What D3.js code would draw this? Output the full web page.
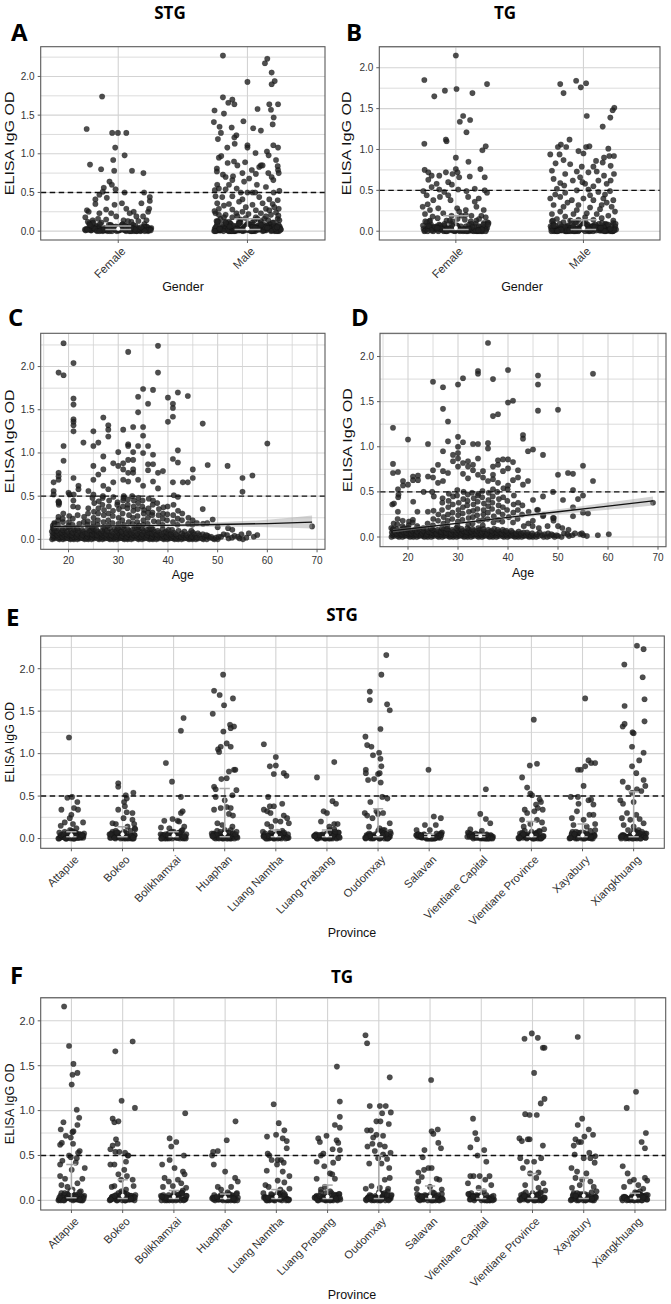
<!DOCTYPE html>
<html><head><meta charset="utf-8">
<script src="https://cdn.jsdelivr.net/npm/d3@7"></script>
<style>body{margin:0;background:#fff}svg{display:block}text{font-family:"Liberation Sans",Arial,sans-serif}</style>
</head><body><svg id="c" width="671" height="1304"></svg>
<script>
// ---------- categories & ticks ----------
const genders = ["Female","Male"];
const provinces = ["Attapue","Bokeo","Bolikhamxai","Huaphan","Luang Namtha","Luang Prabang","Oudomxay","Salavan","Vientiane Capital","Vientiane Province","Xayabury","Xiangkhuang"];
const yTicks = [0,0.5,1,1.5,2];
const yMinor = [0.25,0.75,1.25,1.75,2.25];
const ageTicks = [20,30,40,50,60,70];
const ageMinor = [15,25,35,45,55,65];
const cutoff = 0.5;

// ---------- Panel A (STG by gender): [OD, jitter] ----------
const stgFemale = [[1.32,-0.94],[1.74,-0.48],[0.86,-0.84],[0.80,-0.51],[1.27,-0.18],[1.27,-0.01],[1.27,0.24],[1.08,-0.09],[0.98,0.19],[0.92,-0.15],[0.78,-0.12],[0.78,0.41],[0.75,0.75],[0.64,-0.26],[0.60,-0.19],[0.56,-0.43],[0.54,-0.08],[0.50,0.19],[0.50,0.77],[0.51,-0.46],[0.44,0.94],[0.39,0.94],[0.43,-0.34],[0.47,-0.56],[0.41,-0.68],[0.27,-0.93],[0.25,-0.88],[0.35,-0.68],[0.28,-0.36],[0.34,-0.11],[0.36,0.11],[0.29,0.24],[0.25,0.46],[0.36,0.69],[0.25,0.89],[0.29,0.92],[0.18,-0.98],[0.23,-0.56],[0.23,-0.21],[0.19,-0.06],[0.23,0.34],[0.19,0.54],[0.19,0.74],[0.15,-0.36],[0.14,0.16],[0.12,0.39],[0.14,-0.76],[0.14,0.84],[0.16,-0.6],[0.13,0.6]];
const stgFemaleLow = [0,.01,.02,.03,.01,.05,.02,0,.04,.07,.01,.03,.02,.06,0,.09,.01,.04,.02,.08,.03,.01,.05,0,.02,.1,.03,.01,.06,.02,.04,0,.07,.01,.03,.11,.02,.05,.01,.08,0,.03,.02,.06,.01,.04,.12,0,.02,.05,.01,.03,.07,0,.04,.02,.09,.01,.06,.03,0,.02,.05,.08,.01,.04,0,.03,.13,.02,.06,.01,.1,0,.04,.02,.07,.03,.01,.05,.02,0,.04,.01,.06,.03,0,.08,.02,.05,.01,.03,0,.07,.04,.02,.01,.09,0,.03,.05,.02,.06,.01,0,.04,.11,.02,.03,.01,.07,0,.05,.02,.08,.04];
const stgMale = [[2.27,-0.73],[2.23,0.59],[2.17,0.52],[2.05,0.72],[1.94,0.81],[1.93,0.0],[1.90,0.72],[1.73,-0.73],[1.70,-0.45],[1.66,-0.57],[1.64,-0.39],[1.64,0.65],[1.64,0.91],[1.56,-0.98],[1.52,-0.70],[1.58,0.30],[1.57,0.70],[1.47,0.78],[1.38,0.75],[1.41,-1.0],[1.35,-0.83],[1.34,-0.47],[1.42,-0.12],[1.33,0.17],[1.30,0.40],[1.27,-0.79],[1.24,-0.33],[1.19,-0.88],[1.21,-0.39],[1.11,0.0],[1.08,0.0],[1.11,0.77],[1.08,0.91],[1.08,-0.60],[1.13,-0.38],[0.95,-0.85],[0.97,-0.78],[0.90,-0.40],[1.01,0.24],[1.03,0.58],[0.98,0.63],[0.88,-0.59],[0.89,-0.07],[0.85,-0.30],[0.83,0.35],[0.85,0.40],[0.85,0.45],[0.92,0.85],[0.84,0.90],[0.79,0.91],[0.75,0.93],[0.81,-0.91],[0.77,-0.91],[0.73,-0.73],[0.70,-0.65],[0.71,-0.43],[0.79,0.13],[0.75,-0.15],[0.74,0.25],[0.75,0.62],[0.70,0.72],[0.66,0.77],[0.66,-0.45],[0.64,-0.10],[0.68,0.05],[0.60,-0.55],[0.60,0.28],[0.57,0.55],[0.60,-0.90],[0.53,-0.97],[0.54,-0.65],[0.55,-0.85],[0.55,-0.32],[0.50,-0.20],[0.50,0.0],[0.50,0.15],[0.50,0.23],[0.52,0.95],[0.50,0.78],[0.45,-0.95],[0.44,-0.75],[0.45,-0.45],[0.41,-0.15],[0.44,0.35],[0.41,0.65],[0.40,0.90],[0.36,-0.90],[0.35,-0.55],[0.38,-0.25],[0.34,0.15],[0.36,0.45],[0.35,0.75],[0.29,-0.85],[0.28,-0.45],[0.31,-0.05],[0.27,0.25],[0.29,0.55],[0.29,0.93],[0.23,-0.95],[0.21,-0.65],[0.23,-0.33],[0.22,0.03],[0.23,0.40],[0.21,0.70],[0.16,-0.80],[0.15,-0.20],[0.16,0.50],[0.16,0.90],[0.12,-0.55],[0.11,0.15],[0.11,0.75],[0.26,-0.98],[0.19,-0.30],[0.18,0.25],[0.24,0.85],[0.13,-0.92],[0.14,0.62],[0.33,-0.70],[0.31,0.80],[0.18,-0.45],[0.20,0.92],[0.17,-0.05],[0.13,0.40],[0.25,-0.15],[0.12,-0.25],[0.14,0.95],[0.19,0.55],[0.21,-0.85],[0.16,0.30],[0.27,0.65],[0.18,-0.70]];
const stgMaleLow = [0,.02,.01,.04,.03,.06,0,.01,.08,.02,.05,.03,0,.07,.01,.02,.1,.04,.01,.03,.06,0,.02,.09,.05,.01,.03,0,.07,.02,.04,.01,.11,.03,.06,0,.02,.08,.01,.04,.05,.02,0,.03,.07,.01,.09,.02,.04,0,.06,.03,.01,.1,.02,.05,0,.08,.03,.01,.04,.02,.07,0,.12,.03,.01,.05,.02,0,.06,.04,.09,.01,.03,0,.02,.07,.05,.01,.13,.04,0,.02,.08,.03,.06,.01,0,.04,.1,.02,.05,.01,.03,.07,0,.02,.09,.04,.01,.06,.03,0,.11,.02,.05,.08,.01,.04,.14,0,.03,.06,.02,.1,.01,0,.05,.03,.07,.02,0,.04,.09,.01,.06,.02,0,.03,.08,.05,.01,.04,0,.12,.02,.07,.03,.01,0,.05,.1,.02,.04,.06,0,.01,.03,.08,.02,.05,0,.11,.04,.01];
const stgGenderSummary = [[0.02,0.065,0.03],[0.02,0.16,0.035]]; // [lower, upper, median]

// ---------- Panel B (TG by gender) ----------
const tgFemale = [[2.15,0],[1.85,-0.95],[1.65,-0.65],[1.72,-0.33],[1.74,0.02],[1.69,0.50],[1.80,0.94],[1.41,0.22],[1.34,0.12],[1.36,0.43],[1.21,0.32],[1.12,-0.30],[1.10,-0.28],[1.07,-0.95],[1.04,0.90],[0.90,0],[0.85,0.38],[0.99,0.80],[0.75,-0.94],[0.72,-0.83],[0.68,-0.73],[0.68,-0.50],[0.72,-0.30],[0.70,-0.10],[0.76,0],[0.72,0.05],[0.66,0.10],[0.67,0.42],[0.76,0.74],[0.66,0.87],[0.63,-0.83],[0.58,-0.58],[0.60,-0.23],[0.57,-0.12],[0.54,-0.73],[0.49,-0.98],[0.51,-0.50],[0.48,-0.35],[0.51,0.07],[0.49,0.32],[0.52,0.57],[0.50,0.87],[0.47,0.94],[0.44,-0.88],[0.42,-0.48],[0.44,-0.23],[0.42,0.37],[0.40,0.69],[0.38,-0.68],[0.38,-0.16],[0.36,0.57],[0.30,-1.0],[0.26,-0.78],[0.28,-0.53],[0.28,0.04],[0.26,0.30],[0.30,0.62],[0.26,0.84],[0.21,-0.93],[0.22,-0.38],[0.19,-0.13],[0.19,0.17],[0.19,0.47],[0.19,0.77],[0.13,-0.78],[0.13,-0.28],[0.14,0.27],[0.13,0.62],[0.16,-0.55],[0.15,0.05],[0.17,0.90],[0.12,0.45],[0.24,0.10],[0.33,-0.85],[0.18,-0.70],[0.15,0.70],[0.12,-0.10],[0.20,0.30]];
const tgFemaleLow = [.01,0,.03,.02,.05,.01,.07,.04,0,.02,.09,.03,.01,.06,.02,0,.04,.08,.01,.03,.11,.02,.05,0,.01,.07,.03,.02,.1,.04,0,.06,.01,.03,.02,.08,.05,0,.12,.01,.04,.02,.06,.03,0,.09,.02,.01,.05,0,.07,.03,.01,.04,.1,0,.02,.06,.01,.03,.08,0,.05,.02,.04,.01,.13,0,.03,.07,.02,.01,.05,.09,0,.04,.02,.06,.01,.03,.11,0,.02,.08,.01,.05,0,.03,.07,.02,.04,0,.01,.06,.03,.09,0,.02,.05,.01,.04,.12,0,.03,.02,.07,.01,.05,0,.08,.02,.04,.01,.06,0,.03];
const tgMale = [[1.80,-0.70],[1.84,-0.22],[1.81,0.08],[1.69,-0.60],[1.76,-0.08],[1.51,0.93],[1.48,0.88],[1.39,0.81],[1.41,0.10],[1.28,0.58],[1.06,-0.68],[1.12,-0.42],[1.03,-0.52],[1.03,-0.77],[1.03,0.08],[1.04,0.18],[1.01,0.75],[0.94,-1.0],[0.94,-0.72],[0.98,-0.15],[0.95,0],[0.90,0.62],[0.92,0.78],[0.92,0.92],[0.83,-0.84],[0.87,-0.60],[0.82,-0.40],[0.79,-0.05],[0.79,0.30],[0.84,0.58],[0.80,0.82],[0.74,-0.95],[0.70,-0.55],[0.73,-0.20],[0.72,0.15],[0.73,0.40],[0.70,0.92],[0.64,-0.90],[0.59,-0.70],[0.62,-0.32],[0.60,-0.03],[0.58,0.05],[0.62,0.45],[0.58,0.70],[0.52,-0.80],[0.47,-0.55],[0.50,-0.20],[0.51,0.15],[0.48,0.45],[0.49,0.80],[0.40,-1.0],[0.42,-0.70],[0.38,-0.35],[0.40,0],[0.38,0.30],[0.40,0.60],[0.38,0.90],[0.32,-0.90],[0.30,-0.60],[0.32,-0.15],[0.29,0.20],[0.32,0.55],[0.30,0.85],[0.21,-0.95],[0.24,-0.70],[0.21,-0.30],[0.22,0.10],[0.21,0.40],[0.19,0.75],[0.15,-0.80],[0.13,-0.40],[0.14,0.30],[0.13,0.90],[0.66,-0.10],[0.55,0.30],[0.45,0.65],[0.35,-0.48],[0.27,0.50],[0.45,-0.85],[0.56,-0.58],[0.68,0.62],[0.86,0.38],[0.17,0.05],[0.26,-0.20],[0.35,0.70],[0.44,0.20],[0.62,0.82],[0.18,-0.55],[0.16,0.55],[0.12,-0.95],[0.24,0.95],[0.14,-0.15]];
const tgMaleLow = [.02,0,.01,.04,.03,.06,.01,0,.08,.02,.05,.03,.01,.07,0,.02,.1,.04,.01,.03,.06,0,.02,.09,.05,.01,.03,0,.07,.02,.04,.01,.11,.03,.06,0,.02,.08,.01,.04,.05,.02,0,.03,.07,.01,.09,.02,.04,0,.06,.03,.01,.1,.02,.05,0,.08,.03,.01,.04,.12,0,.02,.06,.01,.03,.05,0,.07,.02,.04,.01,.09,0,.03,.06,.02,.01,.05,0,.08,.04,.02,.11,.01,.03,0,.06,.02,.05,.01,.07,0,.04,.03,.1,.02,.01,.05,0,.13,.03,.06,.02,.08,.01,.04,0,.09,.02,.05,0,.03,.07,.01,.04,0,.06,.02,.1,.03,0,.05,.01,.08,.02,0,.04,.06,.01,.03,.11,0,.02,.07,.05,.01,.03,0,.09,.04,.02];
const tgGenderSummary = [[0.02,0.19,0.04],[0.02,0.14,0.04]];

// ---------- Panel C (STG by age): [age, OD] ----------
const stgAge = [[19,2.27],[18,1.93],[19,1.90],[21,2.04],[32,2.17],[38,2.24],[38,1.93],[21,1.63],[21,1.56],[21,1.39],[21,1.36],[21,1.32],[21,1.25],[19,1.08],[19,0.91],[18,0.77],[18,0.73],[18,0.69],[17,0.66],[17,0.56],[17,0.52],[18,0.44],[18,0.43],[20,0.54],[21,0.71],[22,0.62],[22,0.58],[23,1.12],[24,0.56],[25,1.25],[25,1.08],[25,0.85],[25,0.69],[25,0.52],[26,1.12],[26,0.75],[27,1.41],[27,0.96],[27,0.81],[27,0.62],[28,1.32],[28,1.27],[28,1.19],[28,0.58],[29,0.88],[29,0.66],[30,1.01],[30,0.85],[31,1.27],[31,0.88],[31,0.81],[31,0.69],[32,1.10],[32,1.08],[32,0.92],[32,0.77],[32,0.67],[33,1.30],[33,1.01],[33,0.92],[33,0.81],[33,0.77],[34,1.65],[34,1.47],[34,1.08],[34,0.69],[35,1.74],[35,1.30],[35,1.20],[35,1.00],[35,0.62],[36,1.57],[36,1.08],[36,0.87],[36,0.80],[37,1.73],[37,0.98],[37,0.87],[37,0.67],[38,0.77],[38,0.59],[39,0.79],[40,1.64],[40,1.36],[41,1.57],[41,1.52],[41,1.42],[41,0.93],[41,0.66],[42,1.70],[42,1.03],[42,0.89],[42,0.49],[44,1.66],[43,0.66],[44,0.66],[45,0.81],[45,0.71],[47,1.34],[47,0.35],[48,0.86],[49,0.23],[52,0.85],[55,0.71],[55,0.55],[57,0.74],[60,1.11],[69,0.15]];
const stgAgeMid = [[17,[0.16,0.18,0.19,0.13]],[18,[0.42,0.40,0.26,0.22,0.17]],[19,[0.30,0.20,0.24]],[20,[0.52,0.27,0.20,0.16]],[21,[0.52,0.45,0.38,0.24,0.17]],[22,[0.37,0.28,0.18]],[23,[0.26,0.20]],[24,[0.36,0.30,0.21,0.17]],[25,[0.48,0.42,0.32,0.25,0.19]],[26,[0.44,0.36,0.30,0.22,0.17]],[27,[0.50,0.48,0.40,0.34,0.28,0.20]],[28,[0.45,0.38,0.30,0.22,0.16]],[29,[0.49,0.33,0.27,0.19]],[30,[0.43,0.40,0.35,0.25,0.18]],[31,[0.50,0.48,0.45,0.38,0.30,0.22,0.17]],[32,[0.46,0.40,0.36,0.28,0.20]],[33,[0.50,0.45,0.38,0.33,0.25,0.18]],[34,[0.48,0.42,0.35,0.27,0.20,0.16]],[35,[0.45,0.38,0.34,0.30,0.22,0.17]],[36,[0.47,0.36,0.31,0.25,0.18]],[37,[0.45,0.40,0.31,0.28,0.21]],[38,[0.42,0.35,0.28,0.20]],[39,[0.37,0.30,0.24,0.17]],[40,[0.38,0.29,0.22]],[41,[0.51,0.40,0.28,0.20]],[42,[0.33,0.24,0.17]],[43,[0.30,0.22]],[44,[0.25,0.18]],[45,[0.22,0.17]],[46,[0.19]],[47,[0.18]],[48,[0.19]],[50,[0.14]],[52,[0.13]],[53,[0.11]]];
const stgAgeLow = [[17,[0,.01,.02,.03,.04,.05,.07,.08,.09,.11,.13]],[18,[0,.01,.02,.03,.05,.06,.08,.1,.12]],[19,[0,.01,.02,.03,.04,.06,.08,.09,.11,.13]],[20,[0,.01,.02,.04,.05,.06,.07,.09,.12,.14]],[21,[0,.01,.02,.03,.05,.07,.08,.1,.12]],[22,[0,.01,.02,.03,.04,.06,.08,.1,.13]],[23,[0,.01,.02,.04,.05,.07,.09,.11]],[24,[0,.01,.02,.03,.04,.06,.07,.1,.13]],[25,[0,.01,.02,.03,.05,.06,.08,.1,.11,.12,.14]],[26,[0,.01,.02,.04,.05,.07,.09,.11]],[27,[0,.01,.02,.03,.04,.05,.07,.08,.1,.12,.14]],[28,[0,.01,.02,.03,.05,.06,.08,.1,.13]],[29,[0,.01,.02,.04,.05,.07,.09,.12]],[30,[0,.01,.02,.03,.04,.05,.06,.08,.1,.11,.13]],[31,[0,.01,.02,.03,.04,.06,.07,.09,.12,.14]],[32,[0,.01,.02,.03,.05,.06,.08,.1,.12]],[33,[0,.01,.02,.04,.05,.07,.08,.11,.13]],[34,[0,.01,.02,.03,.05,.06,.07,.09,.12,.14]],[35,[0,.01,.02,.03,.04,.06,.08,.1,.13]],[36,[0,.01,.02,.04,.05,.07,.08,.11,.12]],[37,[0,.01,.02,.03,.04,.06,.07,.09,.12,.13]],[38,[0,.01,.02,.03,.05,.06,.08,.1]],[39,[0,.01,.02,.04,.06,.08,.12]],[40,[0,.01,.02,.03,.05,.07,.09,.11]],[41,[0,.01,.02,.03,.04,.06,.08,.11]],[42,[0,.01,.02,.04,.06,.1]],[43,[0,.01,.02,.03,.05,.07,.09]],[44,[0,.01,.02,.03,.05,.07]],[45,[0,.01,.02,.03,.06,.08,.1]],[46,[0,.01,.02,.05,.07]],[47,[0,.01,.03,.06]],[48,[0,.02,.04,.05]],[49,[0,.01,.03]],[50,[0,.02,.03]],[51,[.03,.06]],[52,[.01,.05]],[53,[.02,.04]],[54,[.01,.03]],[55,[0,.06]],[56,[.02,.07]],[57,[.03]],[58,[.05]]];
const stgFit = [[17,0.15,0.13,0.17],[25,0.153,0.14,0.166],[32,0.158,0.145,0.171],[40,0.162,0.147,0.177],[50,0.172,0.145,0.199],[60,0.183,0.14,0.226],[69,0.20,0.125,0.275]]; // [age, fit, lower, upper]

// ---------- Panel D (TG by age) ----------
const tgAge = [[36,2.15],[34,1.84],[34,1.81],[40,1.85],[46,1.79],[46,1.69],[57,1.81],[25,1.72],[27,1.66],[30,1.69],[31,1.76],[37,1.75],[40,1.49],[41,1.51],[46,1.40],[50,1.41],[27,1.42],[37,1.34],[38,1.36],[28,1.28],[17,1.21],[20,1.08],[24,1.03],[28,1.06],[30,1.11],[31,1.05],[33,1.03],[34,1.03],[43,1.13],[43,1.09],[44,0.95],[45,0.97],[47,0.91],[30,1.00],[27,0.95],[34,0.87],[36,1.04],[36,0.98],[38,0.85],[40,0.86],[17,0.81],[17,0.71],[18,0.72],[19,0.62],[19,0.57],[21,0.67],[21,0.63],[24,0.67],[25,0.74],[26,0.80],[27,0.73],[28,0.71],[29,0.91],[30,0.87],[31,0.82],[32,0.78],[33,0.74],[34,0.69],[35,0.73],[37,0.69],[38,0.80],[39,0.73],[40,0.76],[41,0.63],[42,0.74],[43,0.58],[50,0.69],[52,0.71],[53,0.70],[55,0.79],[57,0.62],[55,0.46],[54,0.42],[53,0.52],[51,0.41],[49,0.50],[47,0.45],[45,0.41],[53,0.33],[69,0.38],[46,0.30],[47,0.23],[49,0.21],[55,0.27],[56,0.26],[53,0.23],[29,0.84],[30,0.93],[30,0.78],[31,0.70],[32,0.84],[32,0.65],[33,0.80],[35,0.66],[36,0.62],[37,0.78],[37,0.64],[38,0.60],[39,0.86],[40,0.57],[41,0.83],[42,0.66],[44,0.62],[27,0.62],[26,0.60],[22,0.68],[22,0.63],[25,0.66],[20,0.58],[18,0.53]];
const tgAgeMid = [[17,[0.36,0.37,0.15,0.09]],[18,[0.47,0.44,0.28,0.20,0.14]],[19,[0.18,0.12]],[20,[0.17,0.13,0.10]],[21,[0.39,0.19,0.16]],[22,[0.28,0.12]],[23,[0.50,0.10]],[24,[0.28,0.15]],[25,[0.50,0.45,0.29,0.20,0.13]],[26,[0.25,0.18]],[27,[0.43,0.38,0.30,0.22,0.15]],[28,[0.48,0.40,0.33,0.25,0.18,0.12]],[29,[0.45,0.36,0.27,0.20]],[30,[0.52,0.46,0.38,0.30,0.24,0.17,0.12]],[31,[0.50,0.42,0.33,0.26,0.19]],[32,[0.47,0.40,0.35,0.28,0.21,0.14]],[33,[0.49,0.43,0.36,0.29,0.22,0.15]],[34,[0.48,0.46,0.39,0.31,0.24,0.18]],[35,[0.51,0.44,0.37,0.30,0.25,0.19,0.13]],[36,[0.49,0.41,0.34,0.27,0.20]],[37,[0.53,0.45,0.38,0.31,0.23,0.16]],[38,[0.50,0.42,0.35,0.28,0.19]],[39,[0.54,0.44,0.33,0.25,0.17]],[40,[0.53,0.40,0.30,0.22]],[41,[0.46,0.36,0.27,0.16]],[42,[0.38,0.30,0.20]],[43,[0.35,0.25,0.12]],[44,[0.28,0.15]],[45,[0.18,0.12]],[46,[0.30,0.10]],[47,[0.24]],[48,[0.12]],[49,[0.21,0.18]],[50,[0.12]],[51,[0.10]],[52,[0.08]]];
const tgAgeLow = [[17,[0,.01,.02,.03,.04,.05,.06,.08,.1]],[18,[0,.01,.02,.03,.04,.05,.07,.09]],[19,[0,.01,.02,.03,.04,.06,.08,.1]],[20,[0,.01,.02,.03,.04,.05,.07,.09]],[21,[0,.01,.02,.03,.04,.05,.07,.08]],[22,[0,.01,.02,.03,.04,.06,.08,.1]],[23,[0,.01,.02,.03,.04,.05,.07]],[24,[0,.01,.02,.03,.05,.06,.09]],[25,[0,.01,.02,.03,.04,.05,.07,.08,.1]],[26,[0,.01,.02,.03,.04,.06,.08]],[27,[0,.01,.02,.03,.04,.05,.06,.08,.1]],[28,[0,.01,.02,.03,.04,.05,.07,.09]],[29,[0,.01,.02,.03,.04,.06,.08]],[30,[0,.01,.02,.03,.04,.05,.06,.08,.1]],[31,[0,.01,.02,.03,.04,.05,.07,.09]],[32,[0,.01,.02,.03,.04,.05,.06,.08,.1]],[33,[0,.01,.02,.03,.04,.06,.07,.09]],[34,[0,.01,.02,.03,.04,.05,.07,.08,.1]],[35,[0,.01,.02,.03,.04,.05,.06,.09]],[36,[0,.01,.02,.03,.04,.06,.08]],[37,[0,.01,.02,.03,.04,.05,.07,.09]],[38,[0,.01,.02,.03,.04,.05,.06,.08]],[39,[0,.01,.02,.03,.04,.06,.08]],[40,[0,.01,.02,.03,.04,.05,.07]],[41,[0,.01,.02,.03,.05,.07]],[42,[0,.01,.02,.03,.04,.06]],[43,[0,.01,.02,.04,.05]],[44,[0,.01,.02,.03,.05]],[45,[0,.01,.02,.04]],[46,[0,.01,.03,.05]],[47,[0,.02,.03]],[48,[0,.01,.04]],[49,[0,.02,.03]],[50,[.01,.02]],[51,[0,.04]],[52,[.01,.03]],[53,[.02,.04]],[54,[.03]],[55,[.02,.04]],[56,[.01]],[58,[.02]],[60,[.03]]];
const tgFit = [[17,0.07,0.05,0.09],[25,0.12,0.105,0.135],[32,0.165,0.152,0.178],[40,0.217,0.2,0.234],[50,0.28,0.252,0.308],[60,0.343,0.303,0.383],[69,0.40,0.35,0.45]];

// ---------- Panel E (STG by province): [OD, jitter] ----------
const stgProvHigh = [
 [[1.19,-0.18],[0.34,-0.75],[0.48,-0.3],[0.49,0.05],[0.43,0.45],[0.36,0.2],[0.34,0.5],[0.28,0],[0.24,-0.12],[0.19,-0.5],[0.19,0.88],[0.15,-0.8],[0.17,0.12],[0.12,0.38]],
 [[0.65,-0.32],[0.61,-0.32],[0.54,0.82],[0.51,0.25],[0.47,0.32],[0.43,0.12],[0.34,-0.32],[0.38,0.18],[0.31,0.32],[0.30,0.75],[0.24,0.08],[0.22,0.75],[0.17,-0.5],[0.17,0.88],[0.14,0.38],[0.18,-0.75],[0.12,0.92]],
 [[0.89,-0.58],[0.67,-0.12],[1.27,0.55],[1.42,0.75],[0.49,0.55],[0.30,0.55],[0.32,0.68],[0.21,-0.7],[0.23,-0.08],[0.21,0.3],[0.20,0.42],[0.14,0.8],[0.13,-0.95],[0.12,-0.32]],
 [[1.93,-0.12],[1.65,0.62],[1.74,-0.8],[1.69,-0.38],[1.57,-0.05],[1.47,-0.9],[1.34,0.4],[1.32,0.7],[1.30,0.45],[1.26,-0.1],[1.12,0.15],[1.08,0.45],[1.08,-0.3],[1.05,-0.5],[1.02,-0.42],[0.79,0.32],[0.81,0.7],[0.81,0.8],[0.71,0.15],[0.70,-0.25],[0.61,-0.8],[0.58,-0.68],[0.57,0.88],[0.51,0.58],[0.45,0],[0.49,-0.68],[0.34,-0.8],[0.36,-0.3],[0.37,0.15],[0.36,0.45],[0.29,0.32],[0.27,0.62],[0.18,-0.55],[0.16,-0.18],[0.14,0.58],[0.10,0.45]],
 [[1.11,-0.9],[0.85,-0.45],[0.86,0],[0.96,0],[0.76,-0.15],[0.77,0.6],[0.74,0.8],[0.49,-0.58],[0.41,0.48],[0.38,-0.45],[0.38,-0.15],[0.34,-0.9],[0.32,-0.65],[0.30,-0.4],[0.27,0.6],[0.24,0.85],[0.21,-0.02],[0.20,0.35],[0.17,-0.65],[0.18,0.98],[0.14,-0.35]],
 [[0.72,-0.75],[0.90,0.55],[0.44,0.42],[0.41,0.68],[0.32,-0.25],[0.30,0],[0.20,-0.45],[0.17,0.55],[0.14,0.18],[0.17,0.8],[0.11,0.55]],
 [[2.16,0.62],[1.93,0.25],[1.73,-0.62],[1.63,-0.62],[1.58,0.68],[1.51,0.88],[1.29,0.18],[1.20,-0.95],[1.10,-0.82],[1.08,-0.5],[0.98,-0.38],[1.01,0.08],[0.94,0.18],[0.85,0.25],[0.81,-0.92],[0.77,-0.92],[0.69,-0.75],[0.70,-0.3],[0.76,0],[0.77,0.12],[0.66,0.2],[0.49,0.32],[0.47,0.7],[0.43,-0.58],[0.30,-1.0],[0.27,-0.82],[0.32,-0.12],[0.29,0],[0.30,0.38],[0.24,-0.42],[0.18,0.88],[0.14,-0.68],[0.12,0.12],[0.10,0.5]],
 [[0.81,-0.05],[0.16,-0.32],[0.26,0.35],[0.24,0.88],[0.16,0.5],[0.10,-0.95],[0.10,0.05]],
 [[0.58,0.42],[0.29,0],[0.23,0.42],[0.18,0.75],[0.11,-0.75],[0.09,0.12]],
 [[1.40,0.18],[0.86,-0.12],[0.88,0.42],[0.72,-0.7],[0.60,-0.32],[0.53,-0.08],[0.51,0.05],[0.46,0.62],[0.43,0.72],[0.40,0.35],[0.36,0.48],[0.34,-0.5],[0.34,0.85],[0.30,-0.32],[0.32,0.22],[0.22,-0.7],[0.22,0.42],[0.19,0.8],[0.14,-0.58],[0.17,-0.08]],
 [[1.65,0.2],[0.81,-0.35],[0.81,-0.12],[0.85,0.2],[0.92,0.45],[0.89,0.65],[0.89,0.95],[0.62,0.08],[0.49,-0.88],[0.49,-0.35],[0.45,0.45],[0.46,0.65],[0.41,-0.3],[0.40,0.82],[0.32,-0.42],[0.28,0.52],[0.28,0.82],[0.24,-0.8],[0.22,0.08],[0.17,0.95],[0.16,-0.68],[0.14,0.32]],
 [[2.27,0.25],[2.23,0.75],[2.05,-0.7],[1.90,0.68],[1.64,0.82],[1.56,-0.68],[1.38,0.82],[1.32,-0.82],[1.35,-0.68],[1.25,-0.08],[1.24,0],[1.08,-0.12],[1.01,0.75],[0.92,0.42],[0.85,-0.12],[0.77,0.2],[0.69,0.75],[0.67,-0.82],[0.60,-0.42],[0.58,0.25],[0.62,0.88],[0.54,-0.12],[0.56,0.58],[0.45,-1.0],[0.41,-0.8],[0.43,0],[0.30,-0.5],[0.28,0.2],[0.24,-0.88],[0.22,-0.25],[0.23,0.45],[0.16,-0.75],[0.14,0],[0.18,0.75],[0.10,-0.42]]
];
const stgProvLow = [
 [0,.02,.01,.04,.03,.06,0,.01,.08,.02,.05,.03,0,.07,.01,.02,.09,.04,.01,.03,.06,0,.02,.05,.1,.01,.03,0,.04,.07,.02,.01,.05,0,.03,.08,.02,0,.04,.01,.06,.03,0,.05,.02,.01,.07,.03,0,.04],
 [.01,0,.03,.02,.05,.01,.07,.04,0,.02,.09,.03,.01,.06,.02,0,.04,.08,.01,.03,.11,.02,.05,0,.06,.01,.03,.02,0,.07,.04,.01,.02,.05,0,.09,.03,.01,.06,0,.02,.04,.08,.01,.03,0,.05,.02,.07,.01],
 [.02,0,.01,.05,.03,.07,0,.02,.04,.01,.09,.03,0,.06,.02,.01,.08,.04,0,.03,.05,.01,.02,.1,0,.04,.02,.06,.01,.03,0,.07,.02,.05,.01,.03,0,.04,.02,.06,.01,0,.03,.05,.02,.08,0,.01,.04,.03],
 [0,.01,.03,.02,.06,0,.04,.08,.01,.02,.05,0,.03,.07,.01,.02,.1,.04,0,.06,.01,.03,.09,.02,0,.05,.01,.04,.02,.07,0,.03,.01,.06,.02,.04,0,.05,.01,.03,.08,.02,0,.04,.06,.01,.03,.02,0,.05],
 [.01,0,.02,.04,.03,0,.06,.01,.08,.02,.05,0,.03,.07,.01,.02,.04,0,.09,.03,.01,.06,.02,.05,0,.04,.02,.07,.01,.03,0,.05,.02,.08,.01,.03,0,.04,.06,.02,.01,.05,0,.03,.07,.01,.02,.04],
 [0,.02,.01,.03,.05,0,.04,.07,.01,.02,.06,0,.03,.08,.01,.02,.04,0,.05,.03,.01,.1,.02,.06,0,.04,.01,.03,.07,.02,0,.05,.01,.03,.02,.04,0,.06,.01,.03,.05,.02,0,.04,.08,.01,.03],
 [.02,0,.01,.04,.03,.06,0,.02,.08,.01,.05,.03,0,.07,.02,.01,.09,.04,0,.03,.06,.01,.05,0,.02,.04,.1,.01,.03,0,.06,.02,.05,.01,.07,.03,0,.04,.02,.06,.01,.08,0,.03,.05,.02,.01,.04],
 [0,.01,.02,.03,.05,0,.04,.06,.01,.02,.03,0,.04,.01,.02,.05,0,.03,.01,.02,.07,0,.04,.01,.03,.02,0,.05,.01,.03,.02,.06,0,.04,.01,.02,.03,0,.05,.01,.02,.04,0,.03],
 [.01,0,.02,.03,.04,0,.06,.01,.02,.05,0,.03,.07,.01,.02,.04,0,.03,.05,.01,.02,0,.04,.03,.01,.06,0,.02,.03,.01,.05,0,.04,.02,.01,.03,0,.05,.02,.04,.01,0,.03,.02],
 [0,.02,.01,.04,.03,.07,0,.02,.05,.01,.09,.03,0,.06,.02,.01,.08,.04,0,.03,.11,.01,.05,0,.02,.06,.01,.04,.03,0,.07,.02,.05,.01,.03,.09,0,.04,.02,.06,.01,.03,0,.05,.08,.02,.01,.04],
 [.01,0,.03,.02,.05,.01,.07,.04,0,.02,.09,.03,.01,.06,.02,0,.04,.08,.01,.03,.1,.02,.05,0,.06,.01,.03,0,.04,.07,.02,.01,.05,0,.03,.08,.02,0,.06,.04,.01,.03,0,.05,.02,.07,.01,.04],
 [0,.01,.02,.04,.03,.06,0,.01,.08,.02,.05,.03,0,.07,.01,.02,.09,.04,0,.03,.06,.01,.02,.05,0,.04,.1,.02,.06,.01,.03,0,.05,.02,.07,.01,.04,0,.03,.06,.02,.01,.05,0,.08,.03,.02]
];
const stgProvSummary = [[0.02,0.08,0.04],[0.02,0.14,0.05],[0.02,0.08,0.04],[0.02,0.59,0.06],[0.02,0.10,0.04],[0.02,0.10,0.04],[0.02,0.35,0.05],[0.02,0.05,0.03],[0.02,0.05,0.03],[0.02,0.20,0.04],[0.02,0.17,0.04],[0.02,0.55,0.06]];

// ---------- Panel F (TG by province) ----------
const tgProvHigh = [
 [[2.16,-0.55],[1.72,-0.18],[1.52,0.15],[1.40,0.08],[1.42,0.45],[1.29,0.02],[1.01,0.4],[0.92,0.58],[0.84,0.45],[0.87,-0.6],[0.79,-0.8],[0.72,-0.42],[0.76,0.08],[0.77,0.15],[0.70,-0.05],[0.64,-0.72],[0.62,-0.85],[0.63,0.12],[0.55,0.62],[0.53,0.5],[0.50,-0.18],[0.47,0.4],[0.48,-0.05],[0.44,-0.68],[0.40,-0.85],[0.42,0.32],[0.36,1.0],[0.34,0.02],[0.27,-0.85],[0.24,-0.48],[0.24,0.82],[0.17,-0.75],[0.19,0.45],[0.15,-0.3],[0.12,0.08],[0.10,0.7]],
 [[1.66,-0.55],[1.77,0.75],[1.11,-0.08],[1.03,0.92],[0.91,-0.75],[0.87,-0.62],[0.88,-0.32],[0.68,-0.5],[0.61,-0.75],[0.63,-0.38],[0.57,-0.92],[0.54,-0.55],[0.54,-0.25],[0.53,0.18],[0.50,0.42],[0.40,-0.92],[0.40,-0.62],[0.43,0.25],[0.50,0.38],[0.34,0.12],[0.29,-0.32],[0.27,0.32],[0.23,-0.12],[0.23,0.75],[0.16,-0.62],[0.15,-0.82],[0.16,0.82],[0.12,0.25]],
 [[0.97,0.85],[0.69,-0.32],[0.65,0.18],[0.60,-0.2],[0.40,-0.88],[0.45,-0.32],[0.50,0.75],[0.36,0.05],[0.25,-0.7],[0.32,0.68],[0.29,0.8],[0.23,0.3],[0.21,-0.38],[0.19,0.55],[0.16,-0.08],[0.15,-0.82],[0.14,0.92]],
 [[0.88,0.78],[0.67,0.12],[0.54,-0.9],[0.55,-0.55],[0.50,-0.98],[0.40,-0.85],[0.32,0],[0.25,0.75],[0.21,0.95],[0.15,-0.55],[0.15,0.45],[0.12,-0.3]],
 [[1.07,-0.2],[0.86,0.18],[0.78,0.6],[0.71,-0.7],[0.73,-0.02],[0.69,0.48],[0.66,0.78],[0.58,0.78],[0.52,-0.65],[0.50,-0.52],[0.45,0.1],[0.45,0.35],[0.45,-0.35],[0.40,0.05],[0.42,0.55],[0.33,-0.72],[0.32,0.48],[0.27,0.98],[0.22,0.1],[0.20,0.6],[0.17,-0.82],[0.15,-0.58],[0.13,0.98],[0.12,0.3]],
 [[1.49,0.7],[1.10,0.92],[0.93,0.92],[0.84,0.55],[0.81,0.92],[0.69,-0.7],[0.72,-0.08],[0.65,-0.58],[0.67,0.68],[0.64,0.8],[0.57,0.38],[0.52,-0.32],[0.50,-0.5],[0.56,0.92],[0.47,0.8],[0.43,-0.82],[0.38,-0.25],[0.42,0.42],[0.30,0.18],[0.29,0.35],[0.24,0.55],[0.24,-0.82],[0.15,-0.2],[0.12,-0.5]],
 [[1.84,-1.0],[1.75,-0.88],[1.37,0.82],[1.05,-0.68],[1.05,0.08],[1.05,0.52],[0.97,0.25],[0.98,0.9],[0.88,-0.18],[0.88,0.12],[0.78,-0.88],[0.78,-0.6],[0.85,0.75],[0.73,-0.18],[0.72,0.32],[0.70,-0.42],[0.63,-0.48],[0.62,0.08],[0.60,-0.85],[0.60,0.45],[0.55,-0.3],[0.53,0.88],[0.51,0.32],[0.47,-0.05],[0.46,0.62],[0.41,-0.72],[0.41,0.2],[0.36,0.78],[0.25,0.82],[0.23,0.45],[0.16,-0.55],[0.13,-0.98],[0.14,0.08],[0.13,0.7]],
 [[1.34,0.08],[0.77,0.12],[0.74,0.25],[0.79,0.58],[0.64,0.62],[0.58,0.82],[0.56,-0.42],[0.48,-0.55],[0.31,-0.88],[0.34,-0.45],[0.36,-0.12],[0.36,0.12],[0.26,-0.62],[0.21,-0.88],[0.24,0.5],[0.23,0.7],[0.15,0],[0.13,-1.0],[0.12,0.88]],
 [[0.91,-0.62],[0.75,-0.45],[0.68,-0.32],[0.59,-0.82],[0.56,0.22],[0.50,-0.28],[0.43,0.38],[0.27,-0.82],[0.27,-0.58],[0.27,-0.12],[0.23,0.3],[0.27,0.62],[0.19,-1.0],[0.17,0.75],[0.14,-0.2]],
 [[1.80,-0.6],[1.86,-0.05],[1.81,0.4],[1.70,0.78],[1.70,0.9],[1.42,0.12],[1.08,0.62],[1.13,0.9],[0.96,-0.55],[0.95,-0.22],[0.95,0.32],[0.69,-0.98],[0.66,-0.8],[0.68,-0.35],[0.68,-0.22],[0.61,0.78],[0.47,-0.92],[0.43,-0.42],[0.47,0.65],[0.43,0.12],[0.36,-0.72],[0.31,0.45],[0.30,-0.18],[0.25,0.28],[0.17,-0.55],[0.19,0.82],[0.14,0.45]],
 [[1.82,-0.45],[0.91,-0.12],[0.84,-0.45],[0.79,0.38],[0.73,0.7],[0.68,-0.62],[0.65,-0.38],[0.65,-0.2],[0.71,0.05],[0.61,-0.75],[0.53,0.42],[0.49,0.88],[0.51,-0.68],[0.47,0],[0.47,0.5],[0.42,0.82],[0.36,-0.92],[0.32,-0.5],[0.30,0.2],[0.25,-0.62],[0.23,-0.12],[0.21,0.5],[0.17,-0.3],[0.15,0.75],[0.14,-0.88]],
 [[1.21,0.08],[1.03,-0.62],[0.75,0.82],[0.65,0.5],[0.58,0.75],[0.38,-0.92],[0.30,-0.55],[0.23,-0.08],[0.25,0.75],[0.22,0.92],[0.21,-0.38],[0.17,0.25],[0.15,-0.82],[0.13,0.62]]
];
const tgProvLow = [
 [.01,0,.03,.02,.05,.01,.07,.04,0,.02,.09,.03,.01,.06,.02,0,.04,.08,.01,.03,.05,.02,.06,0,.1,.01,.04,.02,0,.07,.03,.01,.05,0,.02,.08,.04,.01,0,.06,.03,.02,.05,0,.01,.07,.03,.04],
 [0,.02,.01,.04,.03,.06,.01,0,.08,.02,.05,.03,.01,.07,0,.02,.09,.04,.01,.03,.06,0,.02,.05,.1,.01,.03,0,.04,.07,.02,.01,.05,0,.03,.06,.02,0,.04,.01,.08,.03,0,.05,.02,.06,.01],
 [.02,0,.01,.05,.03,.07,0,.02,.04,.01,.09,.03,0,.06,.02,.01,.08,.04,0,.03,.05,.01,.02,.11,0,.04,.02,.06,.01,.03,0,.07,.02,.05,.01,.03,0,.04,.06,.02,.01,.05,0,.03,.08,.01,.04],
 [0,.01,.03,.02,.06,0,.04,.08,.01,.02,.05,0,.03,.07,.01,.02,.04,0,.06,.01,.03,.09,.02,0,.05,.01,.04,.02,.07,0,.03,.01,.06,.02,.04,.01,0,.05,.03,.02,.06,0,.01,.04,.02],
 [.01,0,.02,.04,.03,0,.06,.01,.08,.02,.05,0,.03,.07,.01,.02,.04,0,.09,.03,.01,.06,.02,.05,0,.04,.02,.07,.01,.03,0,.05,.02,.08,.01,.03,0,.06,.02,.04,.01,0,.05,.03,.07,.02],
 [0,.02,.01,.03,.05,0,.04,.07,.01,.02,.06,0,.03,.08,.01,.02,.04,0,.05,.03,.01,.1,.02,.06,0,.04,.01,.03,.07,.02,0,.05,.01,.03,.02,.09,0,.04,.02,.06,.01,.03,0,.05,.02,.08],
 [.02,0,.01,.04,.03,.06,0,.02,.08,.01,.05,.03,0,.07,.02,.01,.09,.04,0,.03,.06,.01,.05,.1,0,.02,.04,.01,.03,0,.06,.02,.05,.01,.07,.03,0,.04,.02,.08,.01,.05,0,.03,.06,.02],
 [0,.01,.02,.03,.05,0,.04,.07,.01,.02,.06,0,.03,.08,.01,.02,.04,0,.05,.03,.01,.09,.02,0,.04,.01,.03,.06,.02,0,.05,.01,.03,.07,.02,.04,0,.06,.01,.03,.05,.02,0,.04],
 [.01,0,.02,.03,.04,0,.06,.01,.02,.05,0,.03,.07,.01,.02,.04,0,.08,.03,.05,.01,.1,.02,0,.04,.01,.06,.03,0,.02,.05,.01,.03,.07,0,.04,.02,.06,.01,0,.03,.05,.02,.04],
 [0,.02,.01,.04,.03,.07,0,.02,.05,.01,.09,.03,0,.06,.02,.01,.08,.04,0,.03,.11,.01,.05,0,.02,.06,.01,.04,.03,0,.07,.02,.05,.01,.03,.09,0,.04,.02,.06,.01,.03,0,.05,.08,.02],
 [.01,0,.03,.02,.05,.01,.07,.04,0,.02,.09,.03,.01,.06,.02,0,.04,.08,.01,.03,.1,.02,.05,0,.06,.01,.03,0,.04,.07,.02,.01,.05,0,.03,.08,.02,0,.06,.04,.01,.03,0,.05,.02,.07],
 [0,.01,.02,.04,.03,.06,0,.01,.08,.02,.05,.03,0,.07,.01,.02,.09,.04,0,.03,.06,.01,.02,.05,0,.04,.1,.02,.06,.01,.03,0,.05,.02,.07,.01,.04,0,.03,.06,.02,.01,.05,0,.03]
];
const tgProvSummary = [[0.03,0.40,0.10],[0.02,0.23,0.05],[0.02,0.11,0.04],[0.02,0.07,0.03],[0.02,0.12,0.04],[0.02,0.17,0.04],[0.02,0.50,0.08],[0.02,0.16,0.04],[0.02,0.12,0.04],[0.02,0.30,0.05],[0.02,0.25,0.05],[0.02,0.08,0.03]];

// ---------- drawing ----------
const svg = d3.select("#c");
svg.append("rect").attr("width",671).attr("height",1304).attr("fill","#fff");
const STG_DOMAIN = [-0.115, 2.385], TG_DOMAIN = [-0.1075, 2.2575];
const PT = {r:2.8, fill:"#222", op:0.8};
const GRID = "#d3d3d3", TICKC = "#333";
const golden = i => (((i + 1) * 0.6180339887) % 1) * 2 - 1;

function frame(box, yDomain, o) {
  const y = d3.scaleLinear().domain(yDomain).range([box.y1, box.y0]);
  const g = svg.append("g");
  g.append("rect").attr("x",box.x0).attr("y",box.y0).attr("width",box.x1-box.x0).attr("height",box.y1-box.y0).attr("fill","#fff");
  const clip = "clip" + Math.round(box.y0) + Math.round(box.x0);
  svg.append("clipPath").attr("id",clip).append("rect").attr("x",box.x0).attr("y",box.y0).attr("width",box.x1-box.x0).attr("height",box.y1-box.y0);
  const grid = g.append("g");
  grid.selectAll("line.ym").data(yMinor.filter(v=>v<yDomain[1])).join("line").attr("class","ym")
    .attr("x1",box.x0).attr("x2",box.x1).attr("y1",d=>y(d)).attr("y2",d=>y(d)).attr("stroke",GRID).attr("stroke-width",0.8);
  grid.selectAll("line.yM").data(yTicks).join("line").attr("class","yM")
    .attr("x1",box.x0).attr("x2",box.x1).attr("y1",d=>y(d)).attr("y2",d=>y(d)).attr("stroke",GRID).attr("stroke-width",1.1);
  const plot = g.append("g").attr("clip-path",`url(#${clip})`);
  const over = g.append("g");
  const ax = g.append("g");
  ax.selectAll("line").data(yTicks).join("line").attr("x1",box.x0-3).attr("x2",box.x0).attr("y1",d=>y(d)).attr("y2",d=>y(d)).attr("stroke",TICKC).attr("stroke-width",0.8);
  ax.selectAll("text").data(yTicks).join("text").attr("x",box.x0-6).attr("y",d=>y(d)).attr("dy","0.35em")
    .attr("text-anchor","end").attr("font-size",o.tickSize).attr("fill",TICKC).text(d=>d3.format(".1f")(d));
  const yt = svg.append("text").attr("transform",`translate(${o.ytx},${(box.y0+box.y1)/2}) rotate(-90)`)
    .attr("text-anchor","middle").attr("font-size",12.5).attr("fill","#111").text("ELISA IgG OD");
  if (o.yLen) yt.attr("textLength",o.yLen).attr("lengthAdjust","spacingAndGlyphs");
  return {g, y, grid, plot, over, box};
}
function finish(P) {
  const b = P.box;
  P.over.append("line").attr("x1",b.x0).attr("x2",b.x1).attr("y1",P.y(cutoff)).attr("y2",P.y(cutoff))
    .attr("stroke","#111").attr("stroke-width",1.4).attr("stroke-dasharray","5.5,3.5");
  P.g.append("rect").attr("x",b.x0).attr("y",b.y0).attr("width",b.x1-b.x0).attr("height",b.y1-b.y0)
    .attr("fill","none").attr("stroke","#5a5a5a").attr("stroke-width",1.1);
}
function dots(sel, data, cx, cy) {
  sel.selectAll(null).data(data).join("circle").attr("cx",cx).attr("cy",cy).attr("r",PT.r)
    .attr("fill",PT.fill).attr("fill-opacity",PT.op).attr("stroke","#000").attr("stroke-opacity",0.35).attr("stroke-width",0.4);
}
function catPanel(box, yDomain, cats, hi, lo, summ, o) {
  const P = frame(box, yDomain, o);
  const x = d3.scalePoint().domain(cats).range([box.x0, box.x1]).padding(0.6);
  const jw = 0.26 * x.step();
  P.grid.selectAll("line.xv").data(cats).join("line").attr("x1",d=>x(d)).attr("x2",d=>x(d)).attr("y1",box.y0).attr("y2",box.y1).attr("stroke",GRID).attr("stroke-width",1.1);
  cats.forEach((c,i) => {
    const lows = lo[i].map((v,k)=>({v, j:golden(k)}));
    const highs = hi[i].map(d=>({v:d[0], j:d[1]}));
    dots(P.plot, highs.concat(lows), d=>x(c)+d.j*jw, d=>P.y(d.v));
  });
  const sw = 0.1 * x.step();
  const sg = P.plot.append("g");
  cats.forEach((c,i) => {
    const [lw,up,md] = summ[i], cx = x(c);
    sg.append("line").attr("x1",cx).attr("x2",cx).attr("y1",P.y(lw)).attr("y2",P.y(up)).attr("stroke","#a8a8a8").attr("stroke-width",1.5);
    [lw,up].forEach(v=>sg.append("line").attr("x1",cx-sw).attr("x2",cx+sw).attr("y1",P.y(v)).attr("y2",P.y(v)).attr("stroke","#a8a8a8").attr("stroke-width",1.5));
    sg.append("circle").attr("cx",cx).attr("cy",P.y(md)).attr("r",2).attr("fill","#fff");
  });
  const ax = P.g.append("g");
  ax.selectAll("line").data(cats).join("line").attr("x1",d=>x(d)).attr("x2",d=>x(d)).attr("y1",box.y1).attr("y2",box.y1+3).attr("stroke",TICKC).attr("stroke-width",0.8);
  ax.selectAll("text").data(cats).join("text").attr("transform",d=>`translate(${x(d)+o.lx},${box.y1+o.ly}) rotate(-45)`)
    .attr("text-anchor","end").attr("font-size",o.catSize).attr("fill",TICKC).text(d=>d);
  svg.append("text").attr("x",o.xtx).attr("y",o.xty).attr("text-anchor","middle").attr("font-size",12.5).attr("fill","#111").text(o.xTitle);
  finish(P);
}
function agePanel(box, yDomain, hi, mid, low, fit, o) {
  const P = frame(box, yDomain, o);
  const x = d3.scaleLinear().domain([14.4, 71.6]).range([box.x0, box.x1]);
  P.grid.selectAll("line.xm").data(ageMinor).join("line").attr("x1",d=>x(d)).attr("x2",d=>x(d)).attr("y1",box.y0).attr("y2",box.y1).attr("stroke",GRID).attr("stroke-width",0.8);
  P.grid.selectAll("line.xM").data(ageTicks).join("line").attr("x1",d=>x(d)).attr("x2",d=>x(d)).attr("y1",box.y0).attr("y2",box.y1).attr("stroke",GRID).attr("stroke-width",1.1);
  const pts = [];
  low.forEach(([a,vs]) => vs.forEach((v,k) => pts.push({a, v, j:golden(k + a) * 0.4})));
  mid.forEach(([a,vs]) => vs.forEach((v,k) => pts.push({a, v, j:golden(k*3 + a) * 0.2})));
  hi.forEach(d => pts.push({a:d[0], v:d[1], j:0}));
  dots(P.plot, pts, d=>x(d.a + d.j), d=>P.y(d.v));
  P.plot.append("path").datum(fit).attr("d", d3.area().x(d=>x(d[0])).y0(d=>P.y(d[2])).y1(d=>P.y(d[3])).curve(d3.curveMonotoneX))
    .attr("fill","#a0a0a0").attr("fill-opacity",0.45);
  P.plot.append("path").datum(fit).attr("d", d3.line().x(d=>x(d[0])).y(d=>P.y(d[1])))
    .attr("fill","none").attr("stroke","#111").attr("stroke-width",1.3);
  const ax = P.g.append("g");
  ax.selectAll("line").data(ageTicks).join("line").attr("x1",d=>x(d)).attr("x2",d=>x(d)).attr("y1",box.y1).attr("y2",box.y1+3).attr("stroke",TICKC).attr("stroke-width",0.8);
  ax.selectAll("text").data(ageTicks).join("text").attr("x",d=>x(d)).attr("y",box.y1+14.5)
    .attr("text-anchor","middle").attr("font-size",o.tickSize).attr("fill",TICKC).text(d=>d);
  svg.append("text").attr("x",(box.x0+box.x1)/2).attr("y",box.y1+30).attr("text-anchor","middle").attr("font-size",12.5).attr("fill","#111").text("Age");
  finish(P);
}

catPanel({x0:40.7,x1:325,y0:46.7,y1:240}, STG_DOMAIN, genders, [stgFemale,stgMale], [stgFemaleLow,stgMaleLow], stgGenderSummary,
  {tickSize:10, ytx:14, yLen:104, lx:8, ly:12, catSize:11.5, xTitle:"Gender", xtx:183, xty:291});
catPanel({x0:379.3,x1:660,y0:46.7,y1:240}, TG_DOMAIN, genders, [tgFemale,tgMale], [tgFemaleLow,tgMaleLow], tgGenderSummary,
  {tickSize:10, ytx:351, yLen:104, lx:8, ly:12, catSize:11.5, xTitle:"Gender", xtx:522, xty:291});
agePanel({x0:40.7,x1:325,y0:333.3,y1:549.3}, STG_DOMAIN, stgAge, stgAgeMid, stgAgeLow, stgFit, {tickSize:10, ytx:14, yLen:104});
agePanel({x0:380,x1:666,y0:333.3,y1:546.7}, TG_DOMAIN, tgAge, tgAgeMid, tgAgeLow, tgFit, {tickSize:10, ytx:352, yLen:104});
catPanel({x0:40.7,x1:664.3,y0:636,y1:848.3}, STG_DOMAIN, provinces, stgProvHigh, stgProvLow, stgProvSummary,
  {tickSize:11, ytx:14, lx:8, ly:12, catSize:11.2, xTitle:"Province", xtx:352, xty:937});
catPanel({x0:40.7,x1:665.7,y0:997.7,y1:1210}, TG_DOMAIN, provinces, tgProvHigh, tgProvLow, tgProvSummary,
  {tickSize:11, ytx:14, lx:8, ly:12, catSize:11.2, xTitle:"Province", xtx:352, xty:1299});

const titleFont = "'Open Sans','Liberation Sans',sans-serif";
[["STG",170,19],["TG",505,19],["STG",342,621],["TG",342,983]].forEach(([t,x,y]) =>
  svg.append("text").attr("x",x).attr("y",y).attr("text-anchor","middle").attr("font-size",17).attr("font-weight","bold").style("font-family",titleFont).attr("fill","#000").text(t));
[["A",11,41],["B",346,41],["C",8,326],["D",351,326],["E",6,626],["F",10,984]].forEach(([t,x,y]) =>
  svg.append("text").attr("x",x).attr("y",y).attr("font-size",24).attr("font-weight","bold").style("font-family",titleFont).attr("fill","#000").text(t));
</script></body></html>
